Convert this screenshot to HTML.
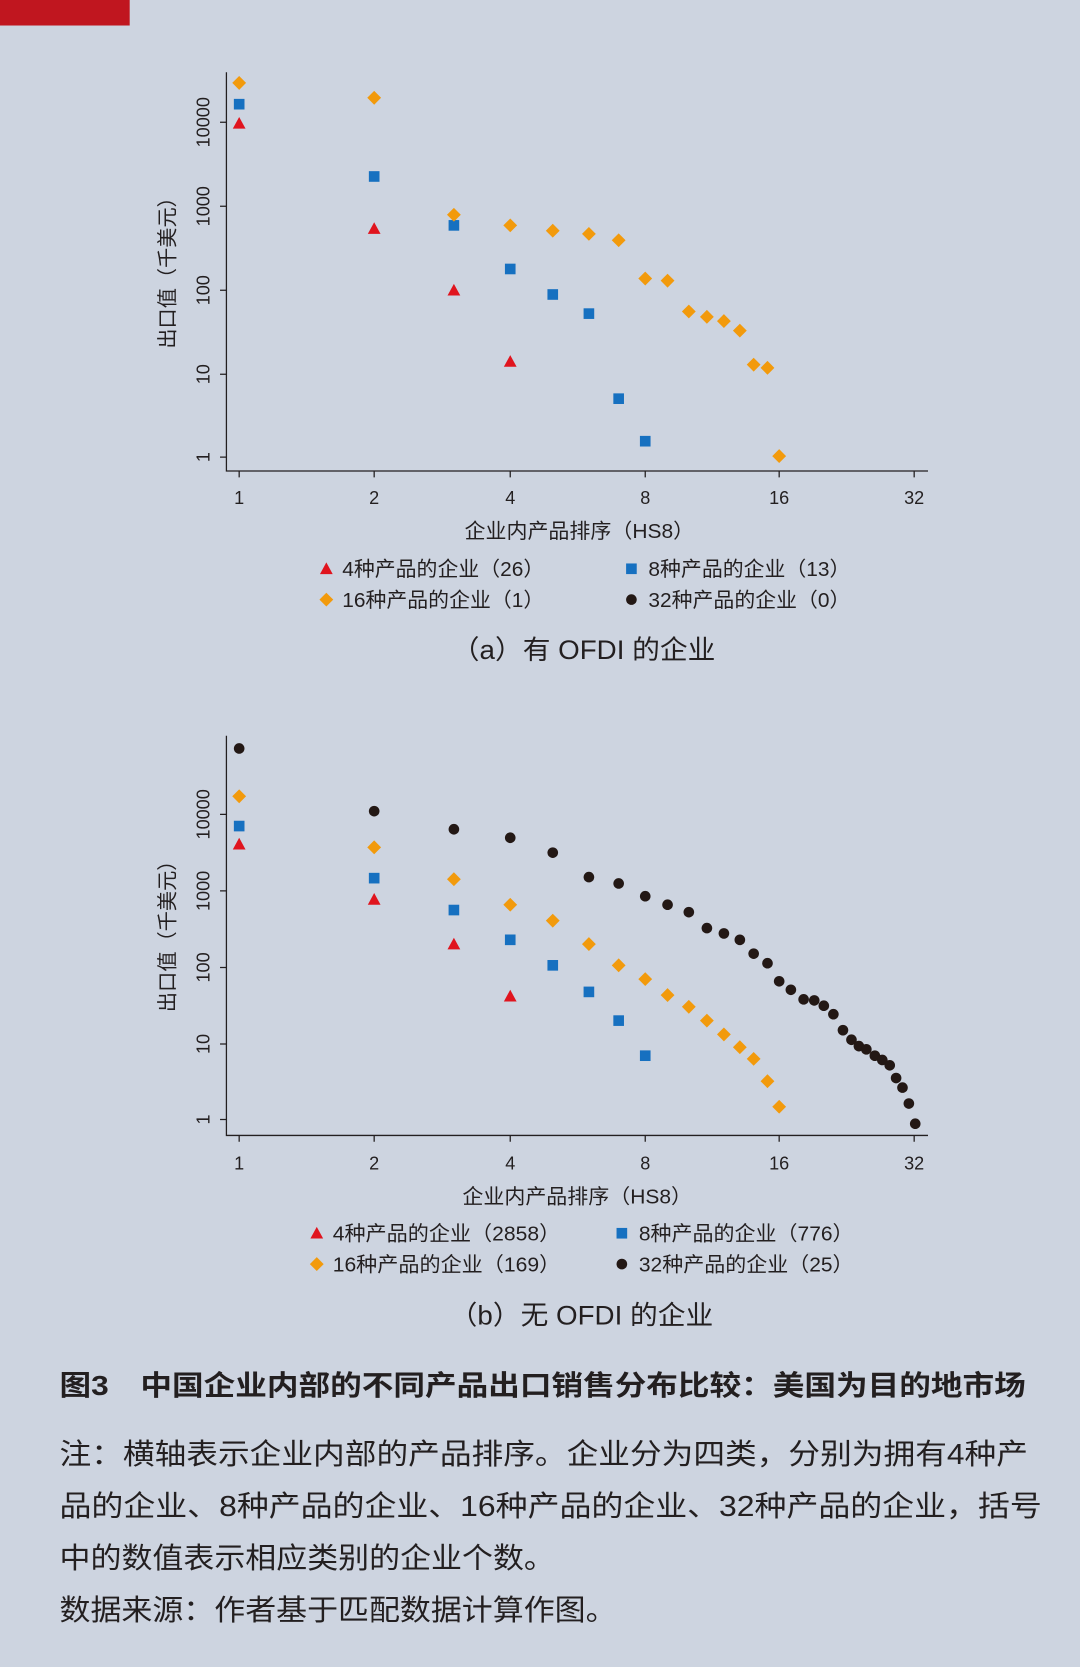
<!DOCTYPE html>
<html><head><meta charset="utf-8"><style>
html,body{margin:0;padding:0;background:#cdd4e0;}
svg{display:block;}
text{font-family:"Liberation Sans","Noto Sans CJK SC",sans-serif;fill:#231f20;}
</style></head><body>
<svg width="1080" height="1667" viewBox="0 0 1016 1568" preserveAspectRatio="none" xmlns="http://www.w3.org/2000/svg">
<defs>
<symbol id="tri" viewBox="-7 -7 14 14" overflow="visible"><polygon points="0,-6 6,5 -6,5" fill="#e0141e"/></symbol>
<symbol id="sq" viewBox="-7 -7 14 14" overflow="visible"><rect x="-5" y="-5" width="10" height="10" fill="#1670c0"/></symbol>
<symbol id="dia" viewBox="-7 -7 14 14" overflow="visible"><polygon points="0,-6.5 6.5,0 0,6.5 -6.5,0" fill="#f29a0c"/></symbol>
<symbol id="cir" viewBox="-7 -7 14 14" overflow="visible"><circle r="5" fill="#231815"/></symbol>
</defs>
<rect width="1016" height="1568" fill="#cdd4e0"/>
<rect x="0" y="0" width="122" height="24" fill="#c0161f"/>

<!-- Chart A -->
<g stroke="#231f20" stroke-width="1.2" fill="none">
<path d="M213,68V443H873"/>
<path d="M225,443v6M352,443v6M480,443v6M607,443v6M733,443v6M860,443v6"/>
<path d="M213,430h-6M213,352h-6M213,273h-6M213,194h-6M213,115h-6"/>
</g>
<g font-size="17" text-anchor="middle">
<text x="225" y="474">1</text><text x="352" y="474">2</text><text x="480" y="474">4</text><text x="607" y="474">8</text><text x="733" y="474">16</text><text x="860" y="474">32</text>
<text transform="translate(197,430) rotate(-90)">1</text>
<text transform="translate(197,352) rotate(-90)">10</text>
<text transform="translate(197,273) rotate(-90)">100</text>
<text transform="translate(197,194) rotate(-90)">1000</text>
<text transform="translate(197,115) rotate(-90)">10000</text>
<text transform="translate(164,252) rotate(-90)" font-size="19">出口值（千美元）</text>
</g>
<text x="437" y="506" font-size="19" textLength="216" lengthAdjust="spacingAndGlyphs">企业内产品排序（HS8）</text>
<text x="425" y="620" font-size="25" textLength="248" lengthAdjust="spacingAndGlyphs">（a）有 OFDI 的企业</text>
<g font-size="19">
<use href="#tri" x="300" y="528" width="14" height="14"/><text x="322" y="542" textLength="190" lengthAdjust="spacingAndGlyphs">4种产品的企业（26）</text>
<use href="#sq" x="587" y="528" width="14" height="14"/><text x="610" y="542" textLength="190" lengthAdjust="spacingAndGlyphs">8种产品的企业（13）</text>
<use href="#dia" x="300" y="557" width="14" height="14"/><text x="322" y="571" textLength="190" lengthAdjust="spacingAndGlyphs">16种产品的企业（1）</text>
<use href="#cir" x="587" y="557" width="14" height="14"/><text x="610" y="571" textLength="190" lengthAdjust="spacingAndGlyphs">32种产品的企业（0）</text>
</g>
<g>
<use href="#tri" x="218" y="109" width="14" height="14"/><use href="#tri" x="345" y="208" width="14" height="14"/><use href="#tri" x="420" y="266" width="14" height="14"/><use href="#tri" x="473" y="333" width="14" height="14"/>
<use href="#sq" x="218" y="91" width="14" height="14"/><use href="#sq" x="345" y="159" width="14" height="14"/><use href="#sq" x="420" y="205" width="14" height="14"/><use href="#sq" x="473" y="246" width="14" height="14"/><use href="#sq" x="513" y="270" width="14" height="14"/><use href="#sq" x="547" y="288" width="14" height="14"/><use href="#sq" x="575" y="368" width="14" height="14"/><use href="#sq" x="600" y="408" width="14" height="14"/>
<use href="#dia" x="218" y="71" width="14" height="14"/><use href="#dia" x="345" y="85" width="14" height="14"/><use href="#dia" x="420" y="195" width="14" height="14"/><use href="#dia" x="473" y="205" width="14" height="14"/><use href="#dia" x="513" y="210" width="14" height="14"/><use href="#dia" x="547" y="213" width="14" height="14"/><use href="#dia" x="575" y="219" width="14" height="14"/><use href="#dia" x="600" y="255" width="14" height="14"/><use href="#dia" x="621" y="257" width="14" height="14"/><use href="#dia" x="641" y="286" width="14" height="14"/><use href="#dia" x="658" y="291" width="14" height="14"/><use href="#dia" x="674" y="295" width="14" height="14"/><use href="#dia" x="689" y="304" width="14" height="14"/><use href="#dia" x="702" y="336" width="14" height="14"/><use href="#dia" x="715" y="339" width="14" height="14"/><use href="#dia" x="726" y="422" width="14" height="14"/>
</g>

<!-- Chart B -->
<g stroke="#231f20" stroke-width="1.2" fill="none">
<path d="M213,692V1068H873"/>
<path d="M225,1068v6M352,1068v6M480,1068v6M607,1068v6M733,1068v6M860,1068v6"/>
<path d="M213,1053h-6M213,982h-6M213,910h-6M213,838h-6M213,766h-6"/>
</g>
<g font-size="17" text-anchor="middle">
<text x="225" y="1100">1</text><text x="352" y="1100">2</text><text x="480" y="1100">4</text><text x="607" y="1100">8</text><text x="733" y="1100">16</text><text x="860" y="1100">32</text>
<text transform="translate(197,1053) rotate(-90)">1</text>
<text transform="translate(197,982) rotate(-90)">10</text>
<text transform="translate(197,910) rotate(-90)">100</text>
<text transform="translate(197,838) rotate(-90)">1000</text>
<text transform="translate(197,766) rotate(-90)">10000</text>
<text transform="translate(164,876) rotate(-90)" font-size="19">出口值（千美元）</text>
</g>
<text x="435" y="1132" font-size="19" textLength="216" lengthAdjust="spacingAndGlyphs">企业内产品排序（HS8）</text>
<text x="423" y="1246" font-size="25" textLength="248" lengthAdjust="spacingAndGlyphs">（b）无 OFDI 的企业</text>
<g font-size="19">
<use href="#tri" x="291" y="1153" width="14" height="14"/><text x="313" y="1167" textLength="214" lengthAdjust="spacingAndGlyphs">4种产品的企业（2858）</text>
<use href="#sq" x="578" y="1153" width="14" height="14"/><text x="601" y="1167" textLength="202" lengthAdjust="spacingAndGlyphs">8种产品的企业（776）</text>
<use href="#dia" x="291" y="1182" width="14" height="14"/><text x="313" y="1196" textLength="214" lengthAdjust="spacingAndGlyphs">16种产品的企业（169）</text>
<use href="#cir" x="578" y="1182" width="14" height="14"/><text x="601" y="1196" textLength="202" lengthAdjust="spacingAndGlyphs">32种产品的企业（25）</text>
</g>
<g>
<use href="#cir" x="218" y="697" width="14" height="14"/><use href="#cir" x="345" y="756" width="14" height="14"/><use href="#cir" x="420" y="773" width="14" height="14"/><use href="#cir" x="473" y="781" width="14" height="14"/><use href="#cir" x="513" y="795" width="14" height="14"/><use href="#cir" x="547" y="818" width="14" height="14"/><use href="#cir" x="575" y="824" width="14" height="14"/><use href="#cir" x="600" y="836" width="14" height="14"/><use href="#cir" x="621" y="844" width="14" height="14"/><use href="#cir" x="641" y="851" width="14" height="14"/><use href="#cir" x="658" y="866" width="14" height="14"/><use href="#cir" x="674" y="871" width="14" height="14"/><use href="#cir" x="689" y="877" width="14" height="14"/><use href="#cir" x="702" y="890" width="14" height="14"/><use href="#cir" x="715" y="899" width="14" height="14"/><use href="#cir" x="726" y="916" width="14" height="14"/><use href="#cir" x="737" y="924" width="14" height="14"/><use href="#cir" x="749" y="933" width="14" height="14"/><use href="#cir" x="759" y="934" width="14" height="14"/><use href="#cir" x="768" y="939" width="14" height="14"/><use href="#cir" x="777" y="947" width="14" height="14"/><use href="#cir" x="786" y="962" width="14" height="14"/><use href="#cir" x="794" y="971" width="14" height="14"/><use href="#cir" x="801" y="977" width="14" height="14"/><use href="#cir" x="808" y="980" width="14" height="14"/><use href="#cir" x="816" y="986" width="14" height="14"/><use href="#cir" x="823" y="990" width="14" height="14"/><use href="#cir" x="830" y="995" width="14" height="14"/><use href="#cir" x="836" y="1007" width="14" height="14"/><use href="#cir" x="842" y="1016" width="14" height="14"/><use href="#cir" x="848" y="1031" width="14" height="14"/><use href="#cir" x="854" y="1050" width="14" height="14"/>
<use href="#dia" x="218" y="742" width="14" height="14"/><use href="#dia" x="345" y="790" width="14" height="14"/><use href="#dia" x="420" y="820" width="14" height="14"/><use href="#dia" x="473" y="844" width="14" height="14"/><use href="#dia" x="513" y="859" width="14" height="14"/><use href="#dia" x="547" y="881" width="14" height="14"/><use href="#dia" x="575" y="901" width="14" height="14"/><use href="#dia" x="600" y="914" width="14" height="14"/><use href="#dia" x="621" y="929" width="14" height="14"/><use href="#dia" x="641" y="940" width="14" height="14"/><use href="#dia" x="658" y="953" width="14" height="14"/><use href="#dia" x="674" y="966" width="14" height="14"/><use href="#dia" x="689" y="978" width="14" height="14"/><use href="#dia" x="702" y="989" width="14" height="14"/><use href="#dia" x="715" y="1010" width="14" height="14"/><use href="#dia" x="726" y="1034" width="14" height="14"/>
<use href="#sq" x="218" y="770" width="14" height="14"/><use href="#sq" x="345" y="819" width="14" height="14"/><use href="#sq" x="420" y="849" width="14" height="14"/><use href="#sq" x="473" y="877" width="14" height="14"/><use href="#sq" x="513" y="901" width="14" height="14"/><use href="#sq" x="547" y="926" width="14" height="14"/><use href="#sq" x="575" y="953" width="14" height="14"/><use href="#sq" x="600" y="986" width="14" height="14"/>
<use href="#tri" x="218" y="787" width="14" height="14"/><use href="#tri" x="345" y="839" width="14" height="14"/><use href="#tri" x="420" y="881" width="14" height="14"/><use href="#tri" x="473" y="930" width="14" height="14"/>
</g>

<text x="56" y="1312" font-size="26" font-weight="bold" textLength="909" lengthAdjust="spacingAndGlyphs">图3　中国企业内部的不同产品出口销售分布比较：美国为目的地市场</text>
<g font-size="27">
<text x="56" y="1377" textLength="911" lengthAdjust="spacingAndGlyphs">注：横轴表示企业内部的产品排序。企业分为四类，分别为拥有4种产</text>
<text x="56" y="1426" textLength="924" lengthAdjust="spacingAndGlyphs">品的企业、8种产品的企业、16种产品的企业、32种产品的企业，括号</text>
<text x="56" y="1475" textLength="466" lengthAdjust="spacingAndGlyphs">中的数值表示相应类别的企业个数。</text>
<text x="56" y="1524" textLength="524" lengthAdjust="spacingAndGlyphs">数据来源：作者基于匹配数据计算作图。</text>
</g>
</svg>
</body></html>
